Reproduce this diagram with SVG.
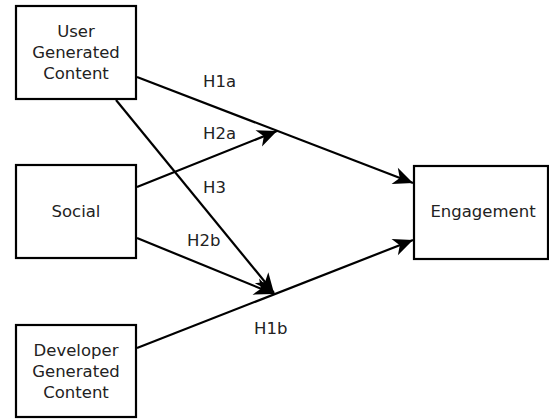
<svg xmlns="http://www.w3.org/2000/svg" width="549" height="419" viewBox="0 0 549 419">
<style>
.box{fill:#fff;stroke:#000;stroke-width:2.2}
.lbl{font-family:"DejaVu Sans",sans-serif;font-size:16.5px;fill:#222;text-anchor:middle}
.hl{font-family:"DejaVu Sans",sans-serif;font-size:16.5px;fill:#222}
.edge{fill:none;stroke:#000;stroke-width:2.2}
</style>
<defs>
<marker id="arr" markerUnits="userSpaceOnUse" markerWidth="24" markerHeight="24" viewBox="-20 -10 22 20" refX="0" refY="0" orient="auto">
<path d="M0,0 L-18,-8 L-13,0 L-18,8 Z" fill="#000"/>
</marker>
</defs>
<rect width="549" height="419" fill="#fff"/>
<g id="connectors">
<line class="edge" x1="137" y1="77" x2="413" y2="183" marker-end="url(#arr)"/>
<line class="edge" x1="137" y1="187" x2="277" y2="131" marker-end="url(#arr)"/>
<line class="edge" x1="116" y1="100" x2="274" y2="293" marker-end="url(#arr)"/>
<line class="edge" x1="137" y1="238" x2="274" y2="294" marker-end="url(#arr)"/>
<line class="edge" x1="137" y1="348" x2="413" y2="240" marker-end="url(#arr)"/>
<text class="hl" x="203" y="87">H1a</text>
<text class="hl" x="203" y="139">H2a</text>
<text class="hl" x="203" y="193">H3</text>
<text class="hl" x="187" y="246">H2b</text>
<text class="hl" x="254" y="334">H1b</text>
</g>
<g id="ugc">
<rect class="box" x="16" y="6" width="120" height="93"/>
<text class="lbl" x="76" y="37">User</text>
<text class="lbl" x="76" y="58">Generated</text>
<text class="lbl" x="76" y="79">Content</text>
</g>
<g id="social">
<rect class="box" x="16" y="165" width="120" height="93"/>
<text class="lbl" x="76" y="217">Social</text>
</g>
<g id="dgc">
<rect class="box" x="16" y="325" width="120" height="92"/>
<text class="lbl" x="76" y="356">Developer</text>
<text class="lbl" x="76" y="377">Generated</text>
<text class="lbl" x="76" y="398">Content</text>
</g>
<g id="engagement">
<rect class="box" x="414" y="166" width="134" height="93"/>
<text class="lbl" x="483" y="217">Engagement</text>
</g>
</svg>
